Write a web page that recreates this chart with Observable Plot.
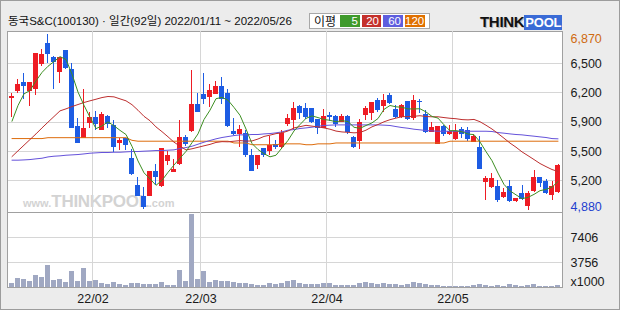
<!DOCTYPE html>
<html><head><meta charset="utf-8">
<script src="https://cdn.jsdelivr.net/npm/d3@7"></script>
<script src="https://cdn.jsdelivr.net/npm/@observablehq/plot@0.6"></script>
<style>
html,body{margin:0;padding:0;background:#ececec;}
#wrap{position:relative;width:620px;height:310px;background:#ececec;overflow:hidden;font-family:"Liberation Sans",Arial,sans-serif;}
#frame{position:absolute;left:0;top:0;width:620px;height:310px;box-sizing:border-box;border:1px solid #9c9c9c;pointer-events:none;}
#title{position:absolute;left:8px;top:13px;font-family:"Liberation Sans","Noto Sans CJK KR",sans-serif;font-size:11.5px;line-height:16px;color:#111;white-space:nowrap;}
#legend{position:absolute;left:309px;top:13px;width:121px;height:16px;box-sizing:border-box;border:1px solid #a8a8a8;background:#fff;}
#legend .lbl{position:absolute;left:4px;top:0px;font-family:"Noto Sans CJK KR",sans-serif;font-size:12px;line-height:14px;color:#111;}
#legend .bx{position:absolute;top:1px;height:12px;color:#fff;font-size:11.5px;line-height:12px;text-align:right;box-sizing:border-box;padding-right:2px;}
#logo{position:absolute;left:480px;top:13px;height:16px;white-space:nowrap;font-family:"Liberation Sans",Arial,sans-serif;font-weight:bold;}
#logo .t{font-size:15px;color:#111;letter-spacing:-0.3px;text-shadow:1px 1px 0 #bbb;}
#logo .p{font-size:13px;color:#fff;background:#3a6bd6;padding:0 1px;letter-spacing:-0.2px;}
.panel{position:absolute;left:7px;width:556px;box-sizing:border-box;border:1px solid #a0a0a0;background:#fff;}
#wm{position:absolute;left:23px;top:192px;white-space:nowrap;color:#d3d3d3;font-family:"Liberation Sans",Arial,sans-serif;font-weight:bold;}
#wm .s{font-size:11px;}
#wm .b{font-size:17px;letter-spacing:-0.3px;}
.svgbox{position:absolute;left:0;}
</style></head><body>
<div id="wrap">
  <div class="panel" style="top:31px;height:182px;"></div>
  <div class="panel" style="top:212px;height:76px;"></div>
  <div id="wm"><span class="s">www.</span><span class="b">THINKPOOL</span><span class="s">.com</span></div>
  <div id="title"></div>
  <div id="legend"><span class="lbl">이평</span></div>
  <div id="logo"><span class="t">THINK</span><span class="p">POOL</span></div>
  <div id="price" class="svgbox" style="top:31px;"></div>
  <div id="vol" class="svgbox" style="top:212px;"></div>
  <div id="frame"></div>
</div>
<script>
const titleText = "동국S&C(100130) · 일간(92일) 2022/01/11 ~ 2022/05/26";
const legendLabels = ["5", "20", "60", "120"];
const maColors = ["#3d8f22", "#bd2f2f", "#6552da", "#dd6c0c"];
const legendColors = ["#3f9a2c", "#c4302b", "#5e5ede", "#e07000"];

const open = [6150,6230,6320,6230,6250,6530,6760,6600,6450,6680,6470,5820,5700,5870,5920,5790,5940,5830,5640,5680,
5460,5150,5030,5040,5310,5150,5440,5310,5400,5700,5780,6070,6180,6160,6190,6280,6200,5760,5740,5740,
5490,5390,5570,5550,5620,5590,5850,5900,6050,6020,6020,5900,5810,5950,5940,5880,5940,5700,5660,5960,
5980,6120,6060,6170,6010,5940,6100,5920,6110,5960,5770,5630,5820,5740,5680,5790,5780,5650,5580,5200,
5140,5140,5030,5140,4980,5060,4920,5090,5240,5200,5050,5080];
const high = [6200,6360,6430,6320,6660,6700,6870,6620,6600,6690,6540,5920,6250,5980,6000,5990,5950,5900,5690,5690,
5570,5250,5140,5310,5400,5580,5540,5450,5890,5720,6460,6200,6430,6300,6340,6380,6250,5920,5840,5780,
5570,5490,5580,5710,5670,5780,5960,6100,6070,6090,6030,5910,6020,5990,5950,5960,5950,5710,5910,6050,
6100,6140,6190,6200,6070,6080,6110,6180,6130,6010,5870,5830,5840,5840,5850,5820,5810,5730,5710,5260,
5290,5210,5120,5210,5010,5160,5090,5330,5250,5230,5200,5400];
const low = [5930,6200,6130,6050,6180,6510,6540,6250,6310,6470,5800,5640,5700,5800,5780,5780,5800,5530,5560,5560,
5270,5030,4890,5040,5160,5140,5380,5300,5380,5600,5760,5980,6080,6040,6190,6080,5810,5720,5590,5480,
5320,5340,5480,5500,5570,5580,5830,5780,5910,5910,5860,5740,5800,5880,5820,5870,5740,5580,5570,5900,
5900,5980,5990,6080,5920,5920,5900,5890,5970,5750,5760,5620,5710,5720,5670,5690,5660,5640,5340,4990,
5120,4970,5010,4970,4970,4990,4880,5080,5130,5060,4990,5070];
const close = [6160,6300,6290,6320,6650,6640,6650,6560,6600,6490,5810,5640,5800,5920,5850,5960,5860,5590,5660,5620,
5290,5040,4910,5310,5250,5570,5490,5330,5700,5630,6070,5990,6140,6230,6280,6140,5830,5740,5790,5500,
5320,5490,5500,5610,5590,5740,5910,6030,5980,5940,5880,5810,5930,5930,5860,5940,5760,5600,5870,6020,
6090,6010,6120,6090,5940,6060,5910,6120,6100,5760,5810,5820,5740,5760,5770,5740,5690,5710,5340,5230,
5230,4990,5070,4980,5000,5010,5060,5240,5190,5070,5140,5380];
// volume, thousand shares
const volume = [790,1420,1280,980,1960,1570,3320,1230,1280,840,2440,980,2880,980,1130,690,590,840,540,400,
690,690,540,540,540,840,400,400,2590,980,10770,1280,2440,840,1130,1030,1080,930,790,690,
540,450,450,690,540,690,980,1130,690,590,540,540,690,690,400,400,500,400,690,930,
740,590,790,590,590,500,640,930,740,640,450,400,350,350,300,350,350,400,540,500,
350,400,350,540,400,350,450,640,350,350,350,450];
const ma5 = [5887,6065,6197,6235,6344,6440,6510,6563,6619,6587,6420,6217,6067,5931,5803,5834,5879,5835,5783,5736,
5602,5436,5302,5233,5160,5216,5307,5390,5468,5544,5643,5743,5906,6012,6142,6157,6125,6043,5954,5798,
5634,5566,5518,5483,5501,5585,5669,5776,5849,5919,5947,5928,5906,5897,5880,5893,5883,5818,5806,5838,
5868,5917,6021,6065,6050,6045,6026,6026,6028,5992,5941,5922,5846,5779,5780,5767,5741,5735,5651,5542,
5439,5299,5170,5097,5052,5009,5023,5057,5099,5114,5139,5203];
const ma20 = [5486,5551,5615,5679,5743,5811,5876,5940,6004,6027,6053,6076,6099,6118,6136,6155,6167,6163,6140,6118,
6074,6011,5942,5892,5822,5768,5710,5649,5604,5561,5574,5591,5608,5624,5646,5655,5653,5660,5667,5661,
5663,5685,5714,5729,5746,5755,5776,5811,5825,5840,5831,5822,5811,5796,5775,5765,5761,5755,5759,5785,
5823,5849,5880,5904,5922,5938,5939,5943,5949,5940,5937,5937,5928,5920,5915,5905,5902,5907,5881,5841,
5798,5747,5694,5639,5592,5539,5496,5452,5407,5372,5339,5317];
const ma60 = [5445,5445,5448,5452,5460,5467,5482,5490,5494,5501,5505,5509,5516,5524,5528,5532,5532,5535,5535,5539,
5543,5543,5547,5550,5554,5554,5558,5562,5577,5588,5603,5626,5649,5668,5687,5702,5713,5724,5732,5732,
5736,5736,5743,5747,5755,5766,5785,5792,5804,5811,5819,5830,5838,5842,5845,5845,5845,5845,5845,5845,
5845,5845,5842,5838,5826,5815,5807,5796,5789,5781,5777,5773,5773,5773,5773,5773,5773,5773,5773,5773,
5770,5758,5751,5743,5736,5732,5724,5717,5709,5702,5690,5687];
const ma120 = [5690,5690,5690,5690,5690,5690,5700,5700,5700,5700,5700,5700,5700,5700,5700,5700,5700,5700,5700,5700,
5670,5660,5660,5660,5660,5660,5660,5660,5660,5660,5660,5660,5660,5660,5660,5660,5660,5640,5640,5640,
5620,5620,5620,5620,5620,5630,5630,5630,5630,5620,5620,5630,5630,5630,5640,5640,5640,5640,5640,5640,
5640,5640,5640,5640,5640,5640,5640,5640,5640,5640,5640,5640,5640,5660,5660,5660,5660,5660,5660,5660,
5660,5660,5660,5660,5660,5660,5660,5660,5660,5660,5660,5660];

const priceMin = 4880, priceMax = 6870;
const priceGrid = [6538, 6207, 5875, 5543, 5212];
const priceTickLabels = ["6,500", "6,200", "5,900", "5,500", "5,200"];
const priceMaxLabel = "6,870", priceMinLabel = "4,880";
const volMin = 106, volMax = 11056;
const volTicks = [7406, 3756];
const volTickLabels = ["7406", "3756"];
const volUnitLabel = "x1000";
const monthIdx = [13.5, 31.5, 52.5, 73.5];
const monthLabels = ["22/02", "22/03", "22/04", "22/05"];

// header
document.getElementById("title").textContent = titleText;
const leg = document.getElementById("legend");
const boxX = [30, 52, 73, 95], boxW = [20, 19, 20, 20];
legendLabels.forEach((t, k) => {
  const b = document.createElement("span");
  b.className = "bx"; b.textContent = t;
  b.style.left = boxX[k] + "px"; b.style.width = boxW[k] + "px"; b.style.background = legendColors[k];
  leg.appendChild(b);
});

const RED = "#ee1c24", BLUE = "#1d5ce3";
const idx = d3.range(close.length);
const candles = idx.map(i => ({i, o: open[i], h: high[i], l: low[i], c: close[i], col: close[i] >= open[i] ? RED : BLUE}));
const xs = {type: "linear", domain: [-0.5833, 91.75], axis: null};
const txt = {fontFamily: "Liberation Sans, Arial, sans-serif", fontSize: 12.5, fill: "#1a1a1a"};
const maSeries = [ma120, ma60, ma20, ma5];
const maCol = [maColors[3], maColors[2], maColors[1], maColors[0]];

const pricePlot = Plot.plot({
  width: 620, height: 182, marginLeft: 8, marginRight: 58, marginTop: 3, marginBottom: 3.5,
  x: xs, y: {domain: [priceMin, priceMax], axis: null},
  style: {background: "transparent", overflow: "visible"},
  marks: [
    Plot.ruleY(priceGrid, {y: d => d, stroke: "#d6d6d6", shapeRendering: "crispEdges"}),
    Plot.ruleX(monthIdx, {x: d => d, stroke: "#d6d6d6", insetTop: -3, insetBottom: -3, shapeRendering: "crispEdges"}),
    Plot.ruleX(candles, {x: "i", y1: "l", y2: "h", stroke: "col", shapeRendering: "crispEdges"}),
    Plot.rect(candles, {x1: d => d.i - 0.4167, x2: d => d.i + 0.4167, y1: "o", y2: "c", fill: "col", insetTop: -0.5, insetBottom: -0.5, shapeRendering: "crispEdges"}),
    ...maSeries.map((s, k) => Plot.line(idx, {x: i => i, y: i => s[i], stroke: maCol[k], strokeWidth: 1})),
    Plot.text(priceGrid, {y: d => d, text: (d, k) => priceTickLabels[k], frameAnchor: "right", dx: 8, textAnchor: "start", ...txt}),
    Plot.text([priceMax], {y: d => d, text: [priceMaxLabel], frameAnchor: "right", dx: 8, dy: 4, textAnchor: "start", ...txt, fill: "#cf6a10"}),
    Plot.text([priceMin], {y: d => d, text: [priceMinLabel], frameAnchor: "right", dx: 8, dy: -3, textAnchor: "start", ...txt, fill: "#1f3fcf"})
  ]
});
document.getElementById("price").appendChild(pricePlot);

const volPlot = Plot.plot({
  width: 620, height: 98, marginLeft: 8, marginRight: 58, marginTop: 0.3, marginBottom: 22.7,
  x: xs, y: {domain: [volMin, volMax], axis: null},
  style: {background: "transparent", overflow: "visible"},
  marks: [
    Plot.ruleY(volTicks, {y: d => d, stroke: "#d6d6d6", shapeRendering: "crispEdges"}),
    Plot.ruleX(monthIdx, {x: d => d, stroke: "#d6d6d6", shapeRendering: "crispEdges"}),
    Plot.rect(idx, {x1: i => i - 0.4167, x2: i => i + 0.4167, y1: volMin, y2: i => volume[i], fill: "#a0a8c2", shapeRendering: "crispEdges"}),
    Plot.text(volTicks, {y: d => d, text: (d, k) => volTickLabels[k], frameAnchor: "right", dx: 8, textAnchor: "start", ...txt}),
    Plot.text([volUnitLabel], {text: d => d, frameAnchor: "bottom-right", dx: 8, dy: -2, textAnchor: "start", ...txt}),
    Plot.text(monthIdx, {x: d => d, text: (d, k) => monthLabels[k], frameAnchor: "bottom", dy: 15, ...txt})
  ]
});
document.getElementById("vol").appendChild(volPlot);
</script>
</body></html>
